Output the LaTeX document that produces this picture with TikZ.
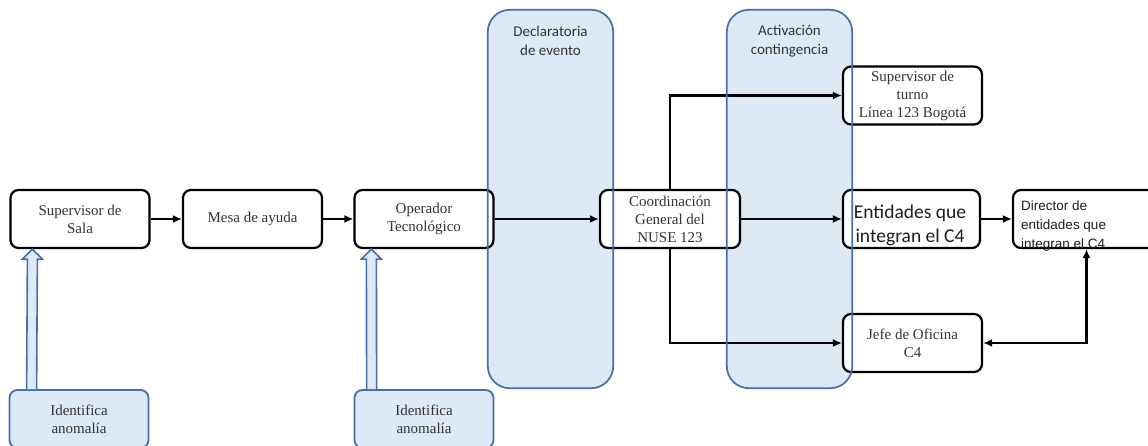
\documentclass[tikz,border=0pt]{standalone}
\usepackage{fontspec}
\setmainfont{Liberation Serif}
\newfontfamily\calibrifont{Carlito}
\newfontfamily\arialfont{Liberation Sans}
\usetikzlibrary{arrows.meta}
\definecolor{lanefill}{HTML}{DEE9F6}
\definecolor{laneedge}{HTML}{4A6DA7}
\definecolor{boxtext}{HTML}{333333}
\definecolor{darktext}{HTML}{1E1E2A}
\begin{document}
\begin{tikzpicture}[x=1pt,y=-1pt,
  box/.style={draw=black, line width=2.2pt, rounded corners=8pt, fill=white,
    minimum width=139pt, minimum height=58pt, inner sep=0pt,
    font=\fontsize{15}{18}\selectfont, text=boxtext, align=center},
  idbox/.style={box, draw=laneedge, fill=lanefill, line width=1.8pt},
  lanebg/.style={fill=lanefill, draw=none, rounded corners=22pt,
    minimum width=125pt, minimum height=378pt, inner sep=0pt},
  laneline/.style={draw=laneedge, line width=1.7pt, rounded corners=22pt},
  lanetitle/.style={font=\calibrifont\fontsize{15}{19}\selectfont, text=boxtext, align=center},
  conn/.style={draw=black, line width=2.7pt, -{Latex[length=9pt,width=8pt]}},
  twin/.style={draw=laneedge, line width=1.6pt, fill=lanefill, line join=miter}
]
\useasboundingbox (0,0) rectangle (1148,445);
\clip (0,0) rectangle (1148,445);

% swimlane backgrounds
\node[lanebg] (decl) at (550.5,199) {};
\node[lanebg] (activ) at (789.5,199) {};
\node[lanetitle] (decltitle) at (550.5,41) {Declaratoria\\de evento};
\node[lanetitle] (activtitle) at (789.5,41) {Activación\\contingencia};

% process boxes
\node[box] (sup) at (80,219) {Supervisor de\\Sala};
\node[box] (mesa) at (252.5,219) {Mesa de ayuda};
\node[box] (oper) at (424,219) {Operador\\Tecnológico};
\node[box, minimum width=140pt] (coord) at (670,219) {Coordinación\\General del\\NUSE 123};
\node[box] (turno) at (912.5,95.5) {Supervisor de\\turno\\Línea 123 Bogotá};
\node[box, minimum width=137pt] (ent) at (911.5,219) {};
\node[font=\calibrifont\fontsize{19.5}{24}\selectfont, text=darktext, align=center, inner sep=0pt] (enttext) at (910,225) {Entidades que\\integran el C4};
\node[box, minimum width=147pt] (dir) at (1086.5,219) {};
\node[font=\arialfont\fontsize{13.5}{19}\selectfont, text=darktext, align=left, anchor=west, inner sep=0pt] (dirtext) at (1021,226) {Director de\\entidades que\\integran el C4};
\node[box] (jefe) at (912.5,343) {Jefe de Oficina\\C4};

% origin of anomaly reports
\node[idbox] (id1) at (79,419) {Identifica\\anomalía};
\node[idbox] (id2) at (424,419) {Identifica\\anomalía};

% connectors
\draw[conn] (sup) -- (mesa);
\draw[conn] (mesa) -- (oper);
\draw[conn] (oper) -- (coord);
\draw[conn] (coord.north) |- (turno.west);
\draw[conn] (coord) -- (ent);
\draw[conn] (coord.south) |- (jefe.west);
\draw[conn] (ent) -- (dir);
\draw[conn, {Latex[length=9pt,width=8pt]}-{Latex[length=9pt,width=8pt]}] (jefe.east) -| (dir.south);

% hollow double arrows from each report to its box
\draw[twin] ([xshift=18pt]id1.north west) -- ([xshift=18pt,yshift=-10pt]sup.south west)
  -- ([xshift=13pt,yshift=-10pt]sup.south west) -- ([xshift=23pt]sup.south west)
  -- ([xshift=33pt,yshift=-10pt]sup.south west) -- ([xshift=28pt,yshift=-10pt]sup.south west)
  -- ([xshift=28pt]id1.north west);
\draw[twin] ([xshift=13pt]id2.north west) -- ([xshift=13pt,yshift=-10pt]oper.south west)
  -- ([xshift=8pt,yshift=-10pt]oper.south west) -- ([xshift=18pt]oper.south west)
  -- ([xshift=28pt,yshift=-10pt]oper.south west) -- ([xshift=23pt,yshift=-10pt]oper.south west)
  -- ([xshift=23pt]id2.north west);

% swimlane borders, drawn over the boxes
\draw[laneline] (decl.south west) rectangle (decl.north east);
\draw[laneline] (activ.south west) rectangle (activ.north east);
\end{tikzpicture}
\end{document}
